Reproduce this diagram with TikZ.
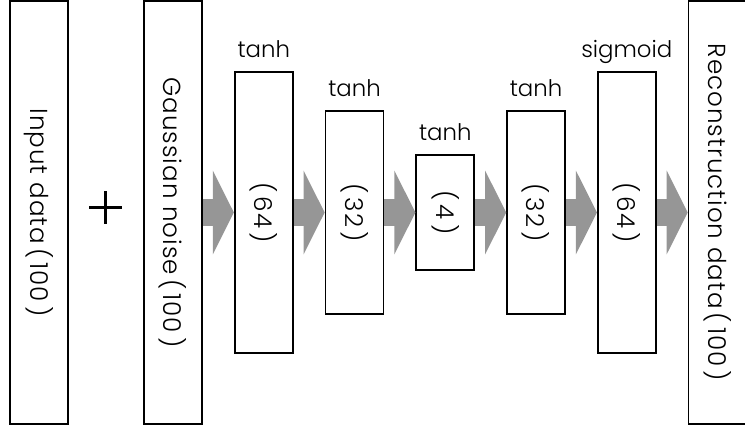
\documentclass[tikz,border=0pt]{standalone}
\usepackage{fontspec}
\usepackage{graphicx}
\setmainfont{Poppins}[UprightFont=* Light]
\usetikzlibrary{arrows.meta,positioning}
\definecolor{flowgray}{RGB}{150,150,150}
% sideways text inside the boxes
\newcommand\vtext[1]{\rotatebox{-90}{\fontsize{14}{16}\selectfont
  \addfontfeatures{LetterSpace=4}#1}}

\begin{document}
\begin{tikzpicture}[
    font=\fontsize{13}{15}\selectfont,
    layer/.style={draw, line width=1pt, minimum width=1.16cm, inner sep=0pt},
    act/.style={anchor=base, inner sep=0pt},
    flow/.style={flowgray, line width=0.54cm,
      -{Triangle[length=0.42cm, width=1.66cm]}},
  ]
  \useasboundingbox (0,0) rectangle (14.9,8.58);
  % input plus noise
  \node[layer, minimum height=8.46cm] (input) at (0.78,4.33)
    {\vtext{Input data\,(\,100\,)}};
  \coordinate (plus) at (2.11,4.43);
  \draw[line width=1.3pt] ([xshift=-0.33cm]plus) -- ([xshift=0.33cm]plus)
    ([yshift=-0.33cm]plus) -- ([yshift=0.33cm]plus);
  \node[layer, minimum height=8.46cm] (noise) at (3.46,4.33)
    {\vtext{Gaussian noise\,(\,100\,)}};
  % encoder / decoder layers
  \node[layer, minimum height=5.62cm, right=0.62cm of noise] (l1) {\vtext{(\,64\,)}};
  \node[layer, minimum height=4.06cm, right=0.62cm of l1] (l2) {\vtext{(\,32\,)}};
  \node[layer, minimum height=2.3cm, right=0.62cm of l2] (l3) {\vtext{(\,4\,)}};
  \node[layer, minimum height=4.06cm, right=0.62cm of l3] (l4) {\vtext{(\,32\,)}};
  \node[layer, minimum height=5.62cm, right=0.62cm of l4] (l5) {\vtext{(\,64\,)}};
  \node[layer, minimum height=8.46cm, right=0.62cm of l5] (output)
    {\vtext{Reconstruction data\,(\,100\,)}};
  % activations
  \foreach \n/\f in {l1/tanh, l2/tanh, l3/tanh, l4/tanh, l5/sigmoid}{
    \node[act] (act-\n) at ([yshift=0.28cm]\n.north) {\f};
  }
  % data flow
  \foreach \a/\b in {noise/l1, l1/l2, l2/l3, l3/l4, l4/l5, l5/output}{
    \draw[flow] (\a.east) -- (\b.west);
  }
\end{tikzpicture}
\end{document}
